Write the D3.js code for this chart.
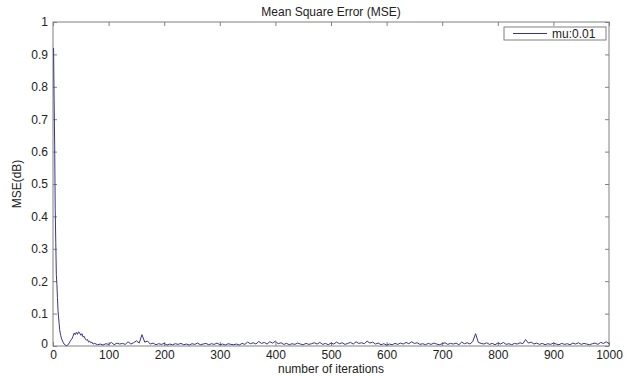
<!DOCTYPE html>
<html>
<head>
<meta charset="utf-8">
<script src="https://cdn.jsdelivr.net/npm/d3@7"></script>
<style>
  html, body { margin: 0; padding: 0; background: #fff; }
  svg { display: block; font-family: "Liberation Sans", Arial, Helvetica, sans-serif; }
</style>
</head>
<body>
<svg id="chart" width="630" height="376"></svg>
<script>
// Learning curve of the adaptive filter: mean square error per iteration.
const seriesName = "mu:0.01";
const chartTitle = "Mean Square Error (MSE)";
const xLabel = "number of iterations";
const yLabel = "MSE(dB)";

const xTicks = [0, 100, 200, 300, 400, 500, 600, 700, 800, 900, 1000];
const yTicks = [0, 0.1, 0.2, 0.3, 0.4, 0.5, 0.6, 0.7, 0.8, 0.9, 1];

// Convergence phase (irregular sampling of the first iterations)
const earlyIterations = [1, 2, 3, 4, 5, 6, 7, 8, 9, 10, 11, 12, 13, 14, 15, 16, 18, 20, 22, 24, 26, 28, 30,
  32, 34, 36, 38, 40, 42, 44, 46, 48, 50, 52, 54, 56, 58, 60, 62, 64, 66, 68, 70, 72];
const earlyMse = [0.92, 0.76, 0.62, 0.42, 0.32, 0.22, 0.19, 0.15, 0.11, 0.09, 0.07, 0.05, 0.04, 0.032, 0.025, 0.02,
  0.012, 0.006, 0.003, 0.001, 0.002, 0.006, 0.012, 0.018, 0.022, 0.03, 0.04, 0.035, 0.042, 0.036, 0.044, 0.04,
  0.033, 0.038, 0.028, 0.03, 0.022, 0.018, 0.02, 0.012, 0.015, 0.01, 0.012, 0.006];

// Steady state, one value every 5 iterations from 75 to 1000
const steadyStart = 75;
const steadyStep = 5;
const steadyMse = [
  0.008, 0.004, 0.006, 0.003, 0.007, 0.005, 0.011, 0.004, 0.009, 0.006,
  0.008, 0.005, 0.013, 0.006, 0.010, 0.016, 0.009, 0.035, 0.012, 0.015,
  0.006, 0.009, 0.004, 0.007, 0.005, 0.008, 0.003, 0.006, 0.004, 0.007,
  0.005, 0.008, 0.004, 0.006, 0.003, 0.007, 0.005, 0.009, 0.004, 0.006,
  0.008, 0.004, 0.007, 0.005, 0.009, 0.004, 0.006, 0.003, 0.007, 0.005,
  0.004, 0.006, 0.003, 0.008, 0.005, 0.012, 0.007, 0.010, 0.006, 0.014,
  0.008, 0.011, 0.006, 0.013, 0.009, 0.015, 0.007, 0.010, 0.005, 0.008,
  0.004, 0.007, 0.005, 0.009, 0.006, 0.004, 0.008, 0.005, 0.007, 0.010,
  0.006, 0.011, 0.005, 0.008, 0.004, 0.009, 0.006, 0.012, 0.007, 0.010,
  0.005, 0.008, 0.011, 0.006, 0.013, 0.008, 0.010, 0.007, 0.015, 0.009,
  0.012, 0.006, 0.009, 0.004, 0.007, 0.003, 0.006, 0.004, 0.008, 0.005,
  0.009, 0.006, 0.011, 0.007, 0.013, 0.008, 0.010, 0.005, 0.007, 0.004,
  0.008, 0.005, 0.009, 0.006, 0.004, 0.007, 0.010, 0.005, 0.008, 0.006,
  0.009, 0.004, 0.012, 0.007, 0.010, 0.006, 0.014, 0.038, 0.011, 0.008,
  0.006, 0.010, 0.005, 0.008, 0.004, 0.009, 0.006, 0.011, 0.005, 0.007,
  0.004, 0.008, 0.006, 0.010, 0.007, 0.020, 0.009, 0.012, 0.006, 0.009,
  0.005, 0.008, 0.004, 0.007, 0.005, 0.009, 0.006, 0.004, 0.008, 0.005,
  0.007, 0.004, 0.009, 0.006, 0.010, 0.005, 0.008, 0.006, 0.004, 0.007,
  0.009, 0.005, 0.011, 0.008, 0.013, 0.007
];

const points = earlyIterations.map((it, i) => ({ it, v: earlyMse[i] }))
  .concat(steadyMse.map((v, i) => ({ it: steadyStart + i * steadyStep, v })));

const svg = d3.select("#chart");
const plot = { left: 53, right: 609, top: 22, bottom: 346 };

const x = d3.scaleLinear().domain([0, 1000]).range([plot.left, plot.right]);
const y = d3.scaleLinear().domain([0, 1]).range([plot.bottom, plot.top]);

const axisColor = "#808080";
const textColor = "#222";
const tickLen = 4;

// Plot box
svg.append("rect")
  .attr("x", plot.left).attr("y", plot.top)
  .attr("width", plot.right - plot.left).attr("height", plot.bottom - plot.top)
  .attr("fill", "#fff").attr("stroke", axisColor).attr("stroke-width", 1);

function styleAxis(g, labels) {
  g.select(".domain").remove();
  g.selectAll(".tick line").attr("stroke", axisColor);
  if (labels) {
    g.selectAll(".tick text").attr("fill", textColor).attr("font-size", 12);
  } else {
    g.selectAll(".tick text").remove();
  }
}

// Inward ticks on all four sides, labels on bottom and left
svg.append("g").attr("transform", `translate(0,${plot.bottom})`)
  .call(d3.axisBottom(x).tickValues(xTicks).tickSize(-tickLen).tickPadding(4).tickFormat(d3.format("d")))
  .call(g => styleAxis(g, true));
svg.append("g").attr("transform", `translate(0,${plot.top})`)
  .call(d3.axisTop(x).tickValues(xTicks).tickSize(-tickLen))
  .call(g => styleAxis(g, false));
svg.append("g").attr("transform", `translate(${plot.left},0)`)
  .call(d3.axisLeft(y).tickValues(yTicks).tickSize(-tickLen).tickPadding(5).tickFormat(d => d3.format("")(+d.toFixed(1))))
  .call(g => styleAxis(g, true))
  .call(g => g.selectAll(".tick text").filter(d => d === 0).attr("dy", "0.1em"));
svg.append("g").attr("transform", `translate(${plot.right},0)`)
  .call(d3.axisRight(y).tickValues(yTicks).tickSize(-tickLen))
  .call(g => styleAxis(g, false));

svg.selectAll(".tick text").attr("font-family", "'Liberation Sans', Arial, sans-serif");

// MSE curve
const line = d3.line().x(d => x(d.it)).y(d => y(d.v));
svg.append("path")
  .datum(points)
  .attr("d", line)
  .attr("fill", "none")
  .attr("stroke", "#35358c")
  .attr("stroke-width", 1)
  .attr("stroke-linejoin", "round");

// Title and axis labels
svg.append("text")
  .attr("x", (plot.left + plot.right) / 2).attr("y", 16)
  .attr("text-anchor", "middle").attr("font-size", 12).attr("fill", textColor)
  .text(chartTitle);
svg.append("text")
  .attr("x", (plot.left + plot.right) / 2).attr("y", 373)
  .attr("text-anchor", "middle").attr("font-size", 12).attr("fill", textColor)
  .text(xLabel);
svg.append("text")
  .attr("transform", `translate(21,${(plot.top + plot.bottom) / 2}) rotate(-90)`)
  .attr("text-anchor", "middle").attr("font-size", 12).attr("fill", textColor)
  .text(yLabel);

// Legend
const legend = svg.append("g").attr("transform", "translate(504,27)");
legend.append("rect")
  .attr("width", 102).attr("height", 13)
  .attr("fill", "#fff").attr("stroke", axisColor).attr("stroke-width", 1);
legend.append("line")
  .attr("x1", 9).attr("x2", 43).attr("y1", 6.5).attr("y2", 6.5)
  .attr("stroke", "#35358c").attr("stroke-width", 1);
legend.append("text")
  .attr("x", 48).attr("y", 10.5)
  .attr("font-size", 12).attr("fill", textColor)
  .text(seriesName);
</script>
</body>
</html>
